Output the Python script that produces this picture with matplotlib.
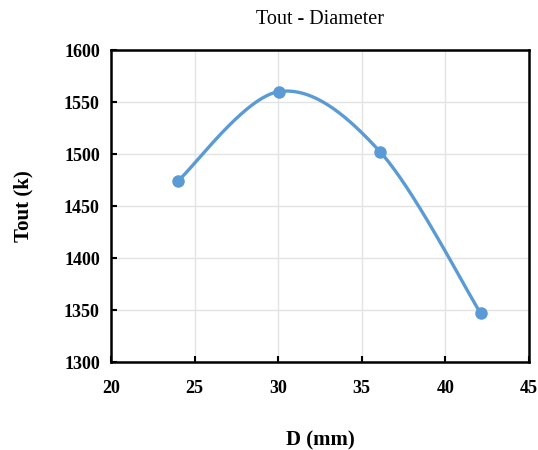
import numpy as np
import matplotlib
matplotlib.use("Agg")
import matplotlib.pyplot as plt

diameter = [24.0, 30.05, 36.1, 42.1]
tout = [1474, 1560, 1502, 1347]
xticks = [20, 25, 30, 35, 40, 45]
yticks = [1300, 1350, 1400, 1450, 1500, 1550, 1600]

plt.rcParams['font.family'] = ['Liberation Serif', 'DejaVu Serif']

def smooth(xs, ys, n=60):
    P = np.column_stack([xs, ys]).astype(float)
    m = len(P)
    out = []
    for i in range(m - 1):
        p0 = P[i - 1] if i > 0 else P[i]
        p1 = P[i]
        p2 = P[i + 1]
        p3 = P[i + 2] if i + 2 < m else P[i + 1]
        c1 = p1 + (p2 - p0) / 6.0
        c2 = p2 - (p3 - p1) / 6.0
        t = np.linspace(0, 1, n)[:, None]
        seg = ((1 - t) ** 3) * p1 + 3 * ((1 - t) ** 2) * t * c1 + 3 * (1 - t) * t ** 2 * c2 + t ** 3 * p2
        out.append(seg if i == 0 else seg[1:])
    s = np.vstack(out)
    return s[:, 0], s[:, 1]

fig = plt.figure(figsize=(5.38, 4.5), dpi=100)
ax = fig.add_axes([111 / 538, 1 - 362 / 450, (529 - 111) / 538, (362 - 50) / 450])

color = '#5B9BD5'
sx, sy = smooth(diameter, tout)
ax.plot(sx, sy, color=color, lw=2.4, zorder=3)
ax.plot(diameter, tout, 'o', color=color, ms=8, zorder=4)

ax.set_xlim(20, 45)
ax.set_ylim(1300, 1600)
ax.set_xticks(xticks)
ax.set_yticks(yticks)
ax.grid(True, color='#e3e3e3', lw=1)
ax.set_axisbelow(True)
for s in ax.spines.values():
    s.set_linewidth(1.8)
    s.set_color('black')
ax.tick_params(direction='in', length=4, width=1.5, labelsize=13)
ax.tick_params(axis='x', pad=13)
ax.tick_params(axis='y', pad=8)
for lab in ax.get_xticklabels() + ax.get_yticklabels():
    lab.set_fontweight('bold')

ax.set_title('Tout - Diameter', fontsize=14.5, pad=19)
ax.set_xlabel('D (mm)', fontsize=15, fontweight='bold', labelpad=24)
ax.set_ylabel('Tout (k)', fontsize=15, fontweight='bold', labelpad=22)

fig.savefig('out.png', dpi=100)
